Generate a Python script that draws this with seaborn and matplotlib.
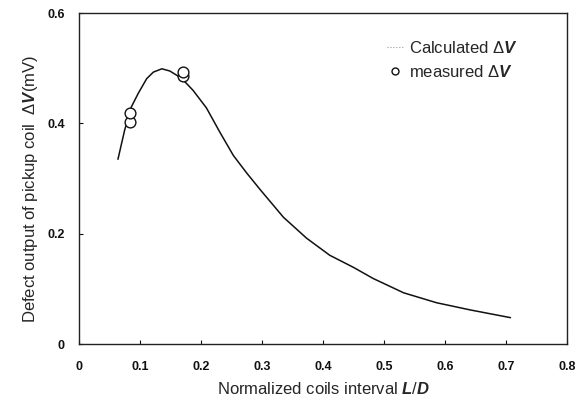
import matplotlib
matplotlib.use("Agg")
import matplotlib.pyplot as plt
from matplotlib.lines import Line2D
import pandas as pd
import seaborn as sb

# calculated curve
calc_x = [0.064, 0.075, 0.086, 0.097, 0.111, 0.122, 0.136, 0.149, 0.168, 0.187,
          0.209, 0.231, 0.253, 0.275, 0.297, 0.335, 0.373, 0.411, 0.450, 0.482,
          0.532, 0.586, 0.641, 0.707]
calc_y = [0.335, 0.388, 0.430, 0.454, 0.481, 0.493, 0.499, 0.495, 0.482, 0.460,
          0.428, 0.384, 0.342, 0.310, 0.280, 0.230, 0.192, 0.161, 0.139, 0.119,
          0.093, 0.075, 0.062, 0.048]

# measured points
meas_x = [0.084, 0.084, 0.171, 0.171]
meas_y = [0.402, 0.419, 0.486, 0.493]

x_ticks = [0, 0.1, 0.2, 0.3, 0.4, 0.5, 0.6, 0.7, 0.8]
x_labels = ["0", "0.1", "0.2", "0.3", "0.4", "0.5", "0.6", "0.7", "0.8"]
y_ticks = [0, 0.2, 0.4, 0.6]
y_labels = ["0", "0.2", "0.4", "0.6"]

sb.set_style("ticks")
plt.rcParams["font.family"] = ["Liberation Sans", "DejaVu Sans"]
plt.rcParams["mathtext.fontset"] = "custom"
plt.rcParams["mathtext.it"] = "Liberation Sans:bold:italic"
plt.rcParams["mathtext.rm"] = "Liberation Sans"

calc = pd.DataFrame({"x": calc_x, "y": calc_y})
meas = pd.DataFrame({"x": meas_x, "y": meas_y})

fig = plt.figure(figsize=(5.8, 3.96), dpi=100)
ax = fig.add_axes([0.136, 0.131, 0.842, 0.836])

sb.lineplot(data=calc, x="x", y="y", ax=ax, color="#111111", linewidth=1.1,
            sort=True, estimator=None)
sb.scatterplot(data=meas, x="x", y="y", ax=ax, marker="o", s=60,
               facecolors="white", edgecolor="#111111", linewidth=1.0, zorder=3)

ax.set_xlim(0, 0.8)
ax.set_ylim(0, 0.6)
ax.set_xticks(x_ticks)
ax.set_xticklabels(x_labels, fontsize=9, fontweight="bold")
ax.set_yticks(y_ticks)
ax.set_yticklabels(y_labels, fontsize=9, fontweight="bold")
ax.tick_params(direction="in", length=3, width=0.8, colors="#111111")
ax.tick_params(axis="x", pad=12)
ax.tick_params(axis="y", pad=10)

for s in ax.spines.values():
    s.set_visible(True)
    s.set_color("#222222")
    s.set_linewidth(1.0)

ax.set_xlabel("Normalized coils interval $L/D$", fontsize=12, labelpad=6)
ax.set_ylabel("Defect output of pickup coil  Δ$V$(mV)", fontsize=12)
ax.yaxis.set_label_coords(-0.08, 0.47)

handles = [
    Line2D([0], [0], color="#999999", linestyle=":", linewidth=0.8),
    Line2D([0], [0], color="#111111", marker="o", linestyle="none",
           markerfacecolor="white", markersize=5),
]
ax.legend(handles, ["Calculated Δ$V$", "measured Δ$V$"], loc="upper left",
          bbox_to_anchor=(0.60, 0.965), frameon=False, fontsize=12,
          handlelength=1.0, handletextpad=0.3, labelspacing=0.5)

fig.savefig("out.png", dpi=100)
